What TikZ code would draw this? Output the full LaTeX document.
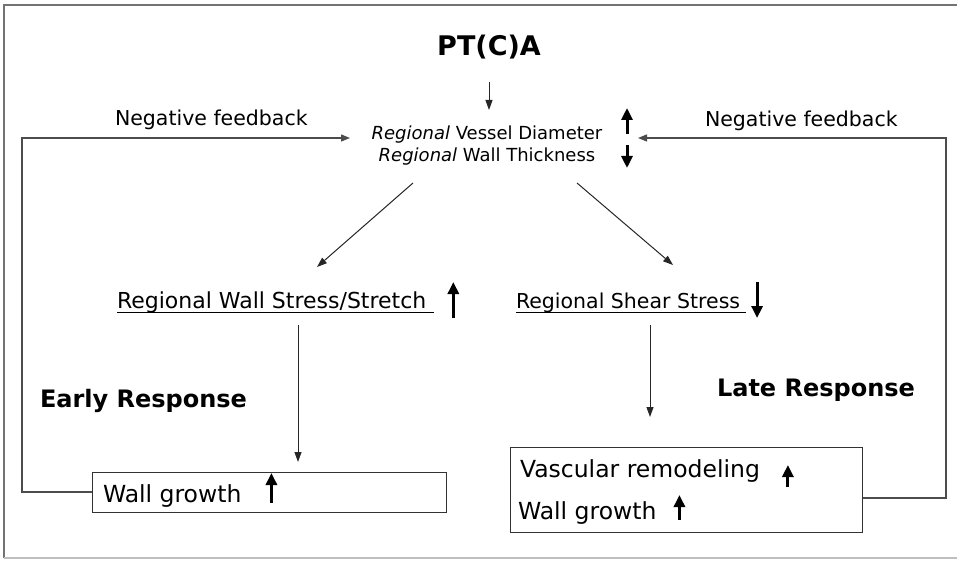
\documentclass[tikz,border=0pt]{standalone}
\usepackage{fontspec}
\setmainfont{DejaVu Sans}
\usetikzlibrary{arrows.meta,calc}

\tikzset{
  txt/.style={inner sep=0pt, outer sep=0pt},
  conn/.style={draw=black!85, line width=1pt, -{Triangle[width=7pt,length=10pt]}},
  fbline/.style={draw=black!70, line width=1.3pt},
  fbarrow/.style={fbline, -{Triangle[width=7pt,length=9pt]}},
  bigarrow/.style={draw=black, line width=3pt, -{Triangle[width=11pt,length=12pt]}},
  boxed/.style={draw=black!80, line width=1pt},
  frameline/.style={draw=black!55, line width=1.5pt},
  uline/.style={draw=black, line width=0.9pt}
}
\newcommand\fsize[1]{\fontsize{#1}{#1}\selectfont}

\begin{document}
\begin{tikzpicture}[x=1pt,y=-1pt]
\useasboundingbox (0,0) rectangle (957,561);

% outer frame (open on the right)
\draw[frameline] (957,5) -- (4,5) -- (4,558);
\draw[draw=black!25, line width=1.2pt] (4,558) -- (957,558);

% title and the two regional quantities
\node[txt, font=\fsize{27}\bfseries] (ptca) at (489,47) {PT(C)A};
\node[txt, font=\fsize{18}, anchor=base] (rv1) at (487,140) {\textit{Regional} Vessel Diameter};
\node[txt, font=\fsize{18}, anchor=base] (rv2) at (487,162) {\textit{Regional} Wall Thickness};
\coordinate (ptcaout) at (489,82);
\coordinate (ptcain) at (489,110);
\draw[conn] (ptcaout) -- (ptcain);

% up/down indicators
\coordinate (upA) at (627,134);
\coordinate (dnA) at (627,145);
\draw[bigarrow] (upA) -- ++(0,-26);
\draw[bigarrow] (dnA) -- ++(0,23);

% feedback labels
\node[txt, font=\fsize{20.5}, anchor=base west] (nfl) at (115,126) {Negative feedback};
\node[txt, font=\fsize{20.5}, anchor=base west] (nfr) at (705,127) {Negative feedback};

% second level
\node[txt, font=\fsize{22}, anchor=base west] (ws) at (117,308) {Regional Wall Stress/Stretch};
\node[txt, font=\fsize{20.5}, anchor=base west] (ss) at (516,308) {Regional Shear Stress};
\draw[uline] ($(ws.base west)+(0,4.5)$) -- ($(ws.base east)+(8,4.5)$);
\draw[uline] ($(ss.base west)+(0,4.5)$) -- ($(ss.base east)+(6,4.5)$);
\draw[bigarrow] ($(ws.base east)+(27,10)$) -- ++(0,-36);
\draw[bigarrow] ($(ss.base east)+(17,-26)$) -- ++(0,36);

% diagonal connectors
\coordinate (dl0) at (413,183);
\coordinate (dl1) at (317,267);
\coordinate (dr0) at (577,183);
\coordinate (dr1) at (673,265);
\draw[conn] (dl0) -- (dl1);
\draw[conn] (dr0) -- (dr1);

% response labels
\node[txt, font=\fsize{24}\bfseries, anchor=base west] (early) at (40,407) {Early Response};
\node[txt, font=\fsize{24}\bfseries, anchor=base west] (late) at (717,396) {Late Response};

% result boxes
\node[boxed, minimum width=354pt, minimum height=40pt, inner sep=0pt] (box1) at (269,492) {};
\node[boxed, minimum width=352pt, minimum height=85pt, inner sep=0pt] (box2) at (686,489.5) {};
\node[txt, font=\fsize{23.5}, anchor=base west] (wg1) at (103,502) {Wall growth};
\node[txt, font=\fsize{23.5}, anchor=base west] (vr) at (520,477) {Vascular remodeling};
\node[txt, font=\fsize{23.5}, anchor=base west] (wg2) at (518,519) {Wall growth};
\draw[bigarrow] ($(wg1.base east)+(30,1)$) -- ++(0,-30);
\draw[bigarrow] ($(vr.base east)+(28,10)$) -- ++(0,-22);
\draw[bigarrow] ($(wg2.base east)+(23,1)$) -- ++(0,-25);

% vertical connectors
\coordinate (vl0) at (298,325);
\coordinate (vl1) at (298,462);
\coordinate (vr0) at (650,325);
\coordinate (vr1) at (650,417);
\draw[conn] (vl0) -- (vl1);
\draw[conn] (vr0) -- (vr1);

% feedback loops
\coordinate (tipL) at (350,138);
\coordinate (tipR) at (638,138);
\draw[fbarrow] (box1.west) -- (22,492) -- (22,138) -- (tipL);
\draw[fbarrow] (box2.east |- 0,498) -- (946,498) -- (946,138) -- (tipR);
\end{tikzpicture}
\end{document}
